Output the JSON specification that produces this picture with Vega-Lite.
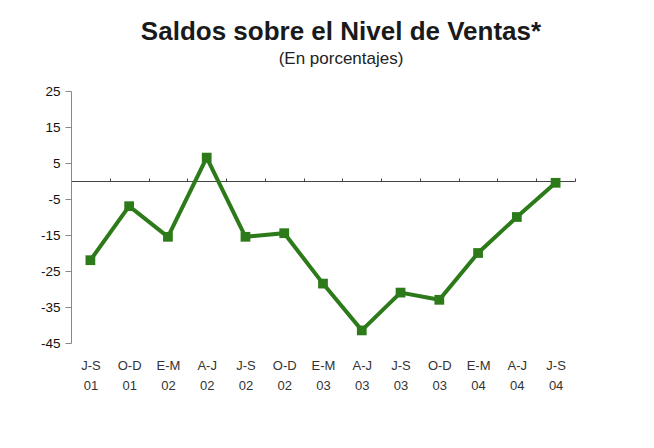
{
  "$schema": "https://vega.github.io/schema/vega-lite/v6.json",
  "width": 504,
  "height": 252,
  "autosize": {"type": "none"},
  "padding": {"left": 71, "top": 91, "right": 79, "bottom": 105},
  "background": "white",
  "config": {"view": {"stroke": null}, "font": "Liberation Sans"},
  "title": {
    "text": "Saldos sobre el Nivel de Ventas*",
    "subtitle": "(En porcentajes)",
    "anchor": "middle",
    "frame": "group",
    "offset": 17,
    "fontSize": 26,
    "fontWeight": "bold",
    "color": "#1a1a1a",
    "subtitleFontSize": 17,
    "subtitleColor": "#222222",
    "subtitlePadding": 6,
    "dx": 18
  },
  "data": {
    "values": [
      {"periodo": "J-S 01", "saldo": -22},
      {"periodo": "O-D 01", "saldo": -7},
      {"periodo": "E-M 02", "saldo": -15.5},
      {"periodo": "A-J 02", "saldo": 6.5},
      {"periodo": "J-S 02", "saldo": -15.5},
      {"periodo": "O-D 02", "saldo": -14.5},
      {"periodo": "E-M 03", "saldo": -28.5},
      {"periodo": "A-J 03", "saldo": -41.5},
      {"periodo": "J-S 03", "saldo": -31},
      {"periodo": "O-D 03", "saldo": -33},
      {"periodo": "E-M 04", "saldo": -20},
      {"periodo": "A-J 04", "saldo": -10},
      {"periodo": "J-S 04", "saldo": -0.5}
    ]
  },
  "resolve": {"axis": {"x": "independent"}},
  "layer": [
    {
      "mark": {"type": "point", "opacity": 0},
      "encoding": {
        "x": {
          "field": "periodo", "type": "ordinal", "sort": null,
          "scale": {"type": "point", "padding": 0.5},
          "axis": {
            "orient": "top", "offset": -90, "title": null, "labels": false,
            "domainColor": "#444444", "domainWidth": 1,
            "ticks": true, "tickColor": "#444444", "tickSize": 3, "tickOffset": 19.4
          }
        },
        "y": {
          "field": "saldo", "type": "quantitative",
          "scale": {"domain": [-45, 25], "nice": false, "zero": false},
          "axis": {
            "title": null, "values": [25, 15, 5, -5, -15, -25, -35, -45],
            "labelExpr": "datum.value + ''", "labelOverlap": false,
            "grid": false, "domainColor": "#888888", "tickColor": "#888888",
            "tickSize": 6, "labelFontSize": 13.5, "labelColor": "#111111", "labelPadding": 5
          }
        }
      }
    },
    {
      "mark": {
        "type": "line", "color": "#2d7a1a", "strokeWidth": 4,
        "point": {"shape": "square", "size": 95, "filled": true, "color": "#2d7a1a", "opacity": 1}
      },
      "encoding": {
        "x": {
          "field": "periodo", "type": "ordinal", "sort": null,
          "scale": {"type": "point", "padding": 0.5},
          "axis": {
            "orient": "bottom", "title": null, "domain": false, "ticks": false,
            "labelAngle": 0, "labelExpr": "split(datum.label, ' ')",
            "labelFontSize": 13, "labelColor": "#333333", "labelPadding": 26,
            "labelLineHeight": 20, "labelBaseline": "alphabetic"
          }
        },
        "y": {
          "field": "saldo", "type": "quantitative",
          "scale": {"domain": [-45, 25], "nice": false, "zero": false},
          "axis": {
            "title": null, "values": [25, 15, 5, -5, -15, -25, -35, -45],
            "labelExpr": "datum.value + ''", "labelOverlap": false,
            "grid": false, "domainColor": "#888888", "tickColor": "#888888",
            "tickSize": 6, "labelFontSize": 13.5, "labelColor": "#111111", "labelPadding": 5
          }
        }
      }
    }
  ]
}
